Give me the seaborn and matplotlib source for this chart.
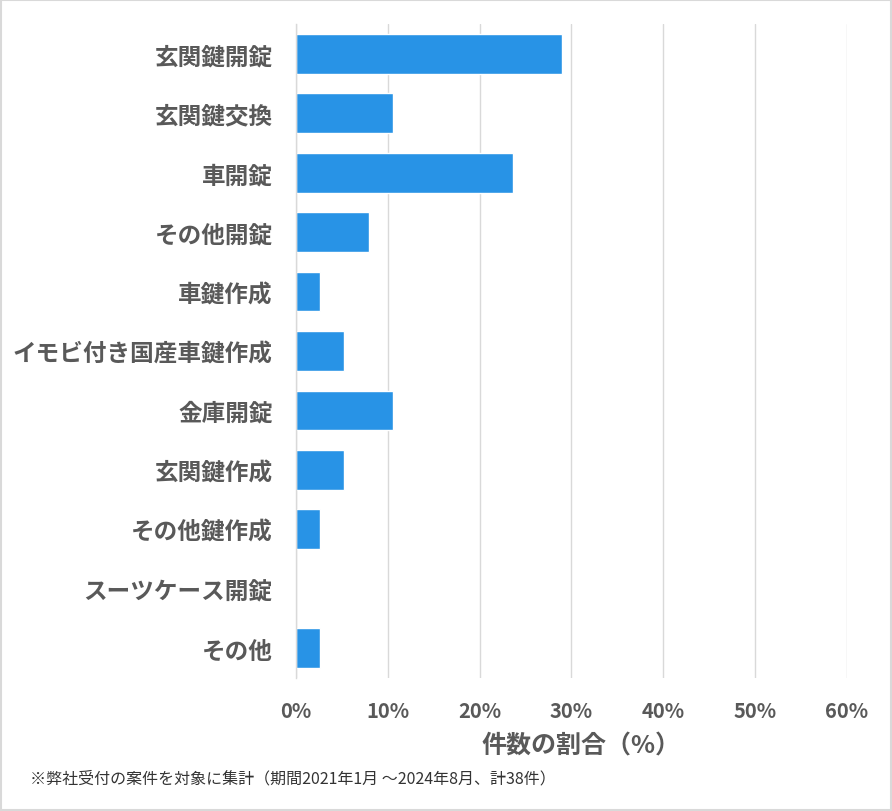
import matplotlib
matplotlib.use("Agg")
from matplotlib import pyplot as plt
from matplotlib.ticker import FuncFormatter
import pandas as pd
import seaborn as sns

# 件数 (計38件) -> 割合
categories = ["玄関鍵開錠", "玄関鍵交換", "車開錠", "その他開錠", "車鍵作成",
              "イモビ付き国産車鍵作成", "金庫開錠", "玄関鍵作成", "その他鍵作成",
              "スーツケース開錠", "その他"]
counts = [11, 4, 9, 3, 1, 2, 4, 2, 1, 0, 1]
total = 38
shares = [c / total for c in counts]

df = pd.DataFrame({"category": categories, "share": shares})

sns.set_style("white")
plt.rcParams['font.family'] = ['Noto Sans CJK JP', 'DejaVu Sans']

text_color = "#595959"
fig = plt.figure(figsize=(8.92, 8.12), dpi=100)
ax = fig.add_axes([0.332, 0.164, 0.617, 0.805])

sns.barplot(data=df, x="share", y="category", color="#2893E6", width=0.67,
            saturation=1, ax=ax)

ax.set_xlim(0, 0.6)
ax.set_xticks([0, 0.1, 0.2, 0.3, 0.4, 0.5, 0.6])
ax.xaxis.set_major_formatter(FuncFormatter(lambda v, p: f"{v*100:.0f}%"))
ax.grid(axis="x", color="#d9d9d9", linewidth=1)
ax.set_axisbelow(True)
for s in ["top", "right", "bottom"]:
    ax.spines[s].set_visible(False)
ax.spines["left"].set_color("#d9d9d9")
ax.spines["left"].set_linewidth(1)
ax.tick_params(axis="both", length=0, colors=text_color)
ax.tick_params(axis="y", pad=17)
ax.tick_params(axis="x", pad=16)
for lbl in ax.get_yticklabels():
    lbl.set_fontsize(17)
    lbl.set_fontweight("bold")
    lbl.set_color(text_color)
for lbl in ax.get_xticklabels():
    lbl.set_fontsize(14.5)
    lbl.set_fontweight("bold")
    lbl.set_color(text_color)
ax.set_ylabel("")
ax.set_xlabel("件数の割合（%）", fontsize=18, fontweight="bold", color=text_color)
ax.xaxis.set_label_coords(0.518, -0.085)

fig.text(0.034, 0.041, "※弊社受付の案件を対象に集計（期間2021年1月 ～2024年8月、計38件）",
         fontsize=11.5, color="#333333", ha="left", va="center")

# light border around the figure
fig.patches.append(plt.Rectangle((0.001, 0.001), 0.998, 0.998, transform=fig.transFigure,
                                 fill=False, edgecolor="#d9d9d9", linewidth=1.5))

fig.savefig("out.png", dpi=100)
